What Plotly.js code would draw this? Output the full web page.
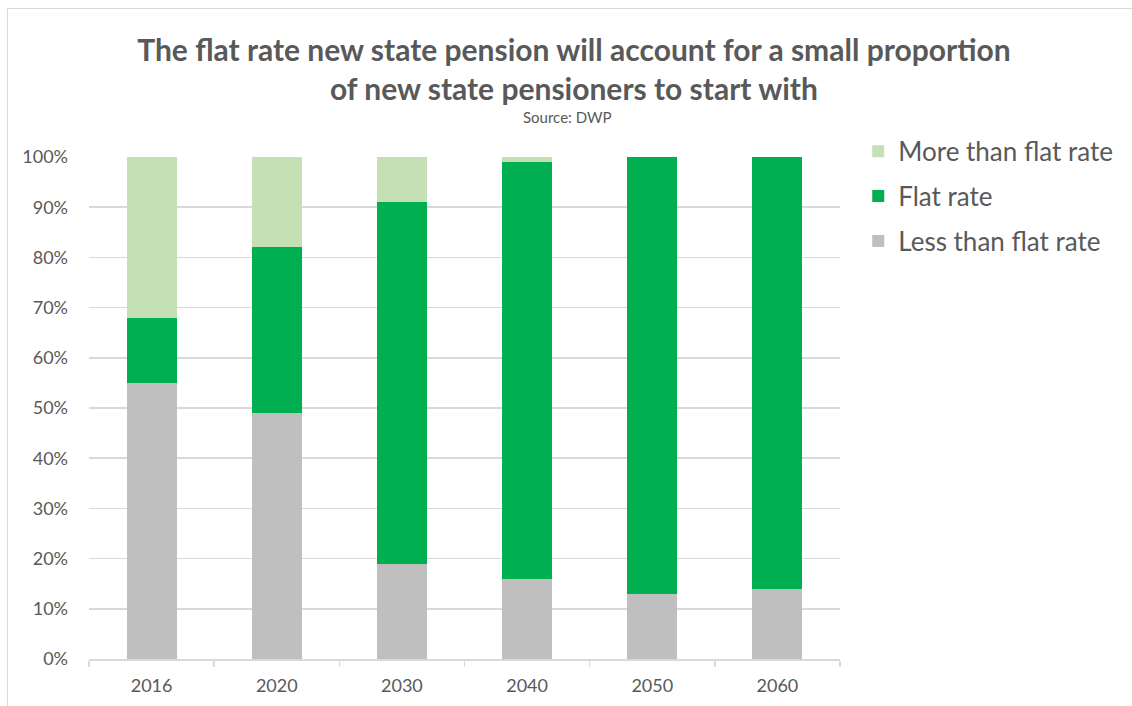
<!DOCTYPE html>
<html>
<head>
<meta charset="utf-8">
<script src="https://cdn.plot.ly/plotly-3.0.1.min.js"></script>
<style>
  html, body { margin: 0; padding: 0; background: #ffffff; }
  #wrap { position: relative; width: 1132px; height: 706px; overflow: hidden; }
  #chart { position: absolute; left: 0; top: 0; width: 1132px; height: 706px; }
  #frame { position: absolute; left: 7px; top: 8px; width: 1200px; height: 800px;
           border: 1.5px solid #d9d9d9; pointer-events: none; box-sizing: border-box; }
</style>
</head>
<body>
<div id="wrap">
  <div id="chart"></div>
  <div id="frame"></div>
</div>
<script>
const years = ['2016', '2020', '2030', '2040', '2050', '2060'];
const lessThanFlat = [55, 49, 19, 16, 13, 14];
const flatRate = [13, 33, 72, 83, 87, 86];
const moreThanFlat = [32, 18, 9, 1, 0, 0];
const seriesNames = ['Less than flat rate', 'Flat rate', 'More than flat rate'];
const seriesColors = ['#bfbfbf', '#00b050', '#c5e0b4'];
const yTicks = [0, 10, 20, 30, 40, 50, 60, 70, 80, 90, 100];
const yTickLabels = yTicks.map(v => v + '%');

const font = 'Lato, "Open Sans", sans-serif';
const textColor = '#595959';

const seriesValues = [lessThanFlat, flatRate, moreThanFlat];
const traces = seriesValues.map((vals, i) => ({
  type: 'bar',
  x: years,
  y: vals.map(v => v / 100),
  name: seriesNames[i],
  legendgroup: 'g' + i,
  legendrank: 1000 - i,
  marker: { color: seriesColors[i], line: { width: 0 } },
  hoverinfo: 'skip'
}));

const layout = {
  width: 1132,
  height: 706,
  paper_bgcolor: '#ffffff',
  plot_bgcolor: '#ffffff',
  barmode: 'stack',
  bargap: 0.6,
  margin: { l: 89, r: 292, t: 157, b: 47 },
  font: { family: font, color: textColor },
  title: {
    text: '<b>The flat rate new state pension will account for a small proportion<br>of new state pensioners to start with</b>',
    font: { family: font, size: 30, color: textColor },
    x: 0.507, xanchor: 'center', xref: 'container',
    y: 0.914, yanchor: 'top', yref: 'container'
  },
  annotations: [{
    text: 'Source: DWP',
    xref: 'paper', yref: 'paper',
    x: 0.6365, y: 1.0797, xanchor: 'center', yanchor: 'middle',
    showarrow: false,
    font: { family: font, size: 15, color: textColor }
  }],
  xaxis: {
    type: 'category',
    tickfont: { family: font, size: 18, color: textColor },
    showline: true, linecolor: '#d9d9d9', linewidth: 1.5,
    ticks: 'outside', tickson: 'boundaries', ticklen: 6, tickcolor: '#d9d9d9', tickwidth: 1.5,
    ticklabelstandoff: 10,
    showgrid: false, fixedrange: true
  },
  yaxis: {
    range: [0, 1],
    tickvals: yTicks.map(v => v / 100),
    ticktext: yTickLabels,
    tickfont: { family: font, size: 18, color: textColor },
    showgrid: true, gridcolor: '#d9d9d9', gridwidth: 1.5,
    zeroline: false, showline: false, ticks: '',
    ticklabelstandoff: 20,
    fixedrange: true
  },
  legend: {
    x: 1.0243, xanchor: 'left', y: 1.058, yanchor: 'top',
    traceorder: 'grouped',
    tracegroupgap: 8,
    font: { family: font, size: 26, color: textColor },
    bgcolor: 'rgba(0,0,0,0)'
  },
  showlegend: true
};

Plotly.newPlot('chart', traces, layout, { displayModeBar: false, staticPlot: true });
</script>
</body>
</html>
